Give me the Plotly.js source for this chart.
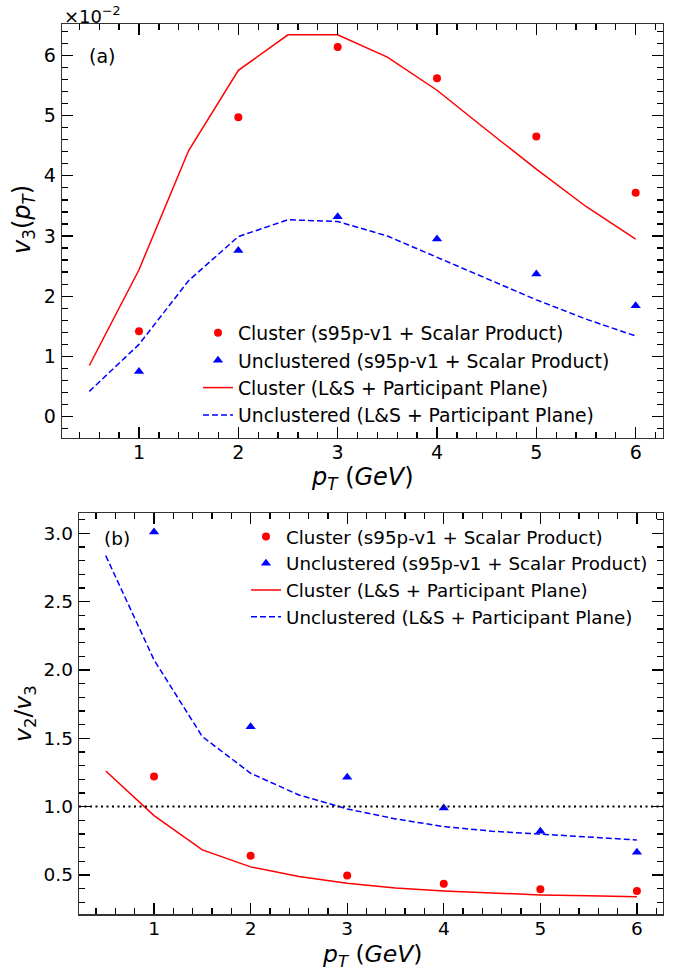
<!DOCTYPE html>
<html><head><meta charset="utf-8">
<script src="https://cdn.plot.ly/plotly-3.0.1.min.js"></script>
<style>html,body{margin:0;padding:0;background:#fff}</style>
</head><body><div id="chart" style="width:683px;height:972px"></div>
<script>
// x values
const pT = [1, 2, 3, 4, 5, 6];
const pTmodel = [0.5, 1, 1.5, 2, 2.5, 3, 3.5, 4, 4.5, 5, 5.5, 6];
// panel (a): v3(pT), in units of 1e-2
const v3ClusterSP = [1.42, 4.97, 6.14, 5.62, 4.65, 3.72];
const v3UnclSP = [0.75, 2.76, 3.32, 2.95, 2.37, 1.84];
const v3ClusterLS = [0.85, 2.44, 4.42, 5.75, 6.34, 6.34, 5.97, 5.42, 4.76, 4.11, 3.49, 2.95];
const v3UnclLS = [0.42, 1.20, 2.26, 2.99, 3.27, 3.24, 3.00, 2.65, 2.30, 1.94, 1.62, 1.34];
// panel (b): v2/v3
const ratioClusterSP = [1.22, 0.641, 0.495, 0.436, 0.395, 0.383];
const ratioUnclSP = [3.01, 1.585, 1.215, 0.99, 0.82, 0.666];
const ratioClusterLS = [1.26, 0.934, 0.683, 0.559, 0.488, 0.439, 0.405, 0.383, 0.368, 0.354, 0.347, 0.341];
const ratioUnclLS = [2.836, 2.073, 1.512, 1.244, 1.085, 0.983, 0.91, 0.854, 0.82, 0.798, 0.775, 0.756];
// labels
const names = [
  "Cluster (s95p-v1 + Scalar Product)",
  "Unclustered (s95p-v1 + Scalar Product)",
  "Cluster (L&S + Participant Plane)",
  "Unclustered (L&S + Participant Plane)"
];
const yTicksA = [0, 1, 2, 3, 4, 5, 6];
const xTicks = [1, 2, 3, 4, 5, 6];

const RED = '#ff0000', BLUE = '#0000ff';
const FONT = 'DejaVu Sans, Liberation Sans, sans-serif';

function mk(x, y, i, xa, ya, leg) {
  const t = {x: x, y: y, name: names[i], xaxis: xa, yaxis: ya, legend: leg};
  if (i === 0) Object.assign(t, {mode: 'markers', marker: {color: RED, size: 8, symbol: 'circle'}});
  if (i === 1) Object.assign(t, {mode: 'markers', marker: {color: BLUE, size: 9, symbol: 'triangle-up'}});
  if (i === 2) Object.assign(t, {mode: 'lines', line: {color: RED, width: 1.5}});
  if (i === 3) Object.assign(t, {mode: 'lines', line: {color: BLUE, width: 1.5, dash: '6px,3px'}});
  return t;
}

const data = [
  mk(pT, v3ClusterSP, 0, 'x', 'y', 'legend'),
  mk(pT, v3UnclSP, 1, 'x', 'y', 'legend'),
  mk(pTmodel, v3ClusterLS, 2, 'x', 'y', 'legend'),
  mk(pTmodel, v3UnclLS, 3, 'x', 'y', 'legend'),
  mk(pT, ratioClusterSP, 0, 'x2', 'y2', 'legend2'),
  mk(pT, ratioUnclSP, 1, 'x2', 'y2', 'legend2'),
  mk(pTmodel, ratioClusterLS, 2, 'x2', 'y2', 'legend2'),
  mk(pTmodel, ratioUnclLS, 3, 'x2', 'y2', 'legend2')
];

function minor(dt) {
  return {ticks: 'inside', ticklen: 6, tickwidth: 1.3, tickcolor: '#000', dtick: dt, tick0: 0, showgrid: false};
}
function ax(extra, fs) {
  return Object.assign({
    ticks: 'inside', ticklen: 11, tickwidth: 1.3, tickcolor: '#000',
    showline: true, linecolor: '#333', linewidth: 1.3, mirror: 'allticks',
    showgrid: false, zeroline: false,
    tickfont: {family: FONT, size: fs, color: '#000'}
  }, extra);
}
const W = 683, H = 972;
const px = v => v / W, py = v => 1 - v / H;

const layout = {
  width: W, height: H,
  margin: {l: 0, r: 0, t: 0, b: 0},
  paper_bgcolor: '#fff', plot_bgcolor: '#fff',
  showlegend: true,
  xaxis: ax({domain: [px(62), px(663)], anchor: 'y', range: [0.225, 6.275], tickvals: xTicks,
    ticklabelstandoff: -3, minor: minor(0.2)}, 19),
  yaxis: ax({domain: [py(438), py(24)], anchor: 'x', range: [-0.354, 6.52], tickvals: yTicksA,
    ticklabelstandoff: 1, minor: minor(0.2)}, 19),
  xaxis2: ax({domain: [px(79), px(663)], anchor: 'y2', range: [0.223, 6.27], tickvals: xTicks,
    ticklabelstandoff: -3, minor: minor(0.2)}, 18.5),
  yaxis2: ax({domain: [py(914.3), py(513.3)], anchor: 'x2', range: [0.212, 3.146], dtick: 0.5, tick0: 0, tickformat: '.1f',
    ticklabelstandoff: 1, minor: minor(0.1)}, 18.5),
  legend: {x: px(198), y: py(314), xanchor: 'left', yanchor: 'top', bgcolor: 'rgba(0,0,0,0)',
    font: {family: FONT, size: 18.8, color: '#000'}, borderwidth: 0},
  legend2: {x: px(246), y: py(518), xanchor: 'left', yanchor: 'top', bgcolor: 'rgba(0,0,0,0)',
    font: {family: FONT, size: 18.3, color: '#000'}, borderwidth: 0},
  shapes: [{type: 'line', xref: 'x2 domain', yref: 'y2', x0: 0, x1: 1, y0: 1, y1: 1,
    line: {color: '#000', width: 2, dash: '2px,3.5px'}, layer: 'above'}],
  annotations: [
    {text: '×10<sup>−2</sup>', xref: 'paper', yref: 'paper', x: px(62), y: py(15), xanchor: 'left', yanchor: 'middle',
      showarrow: false, font: {family: FONT, size: 18, color: '#000'}},
    {text: '(a)', xref: 'paper', yref: 'paper', x: px(87), y: py(56), xanchor: 'left', yanchor: 'middle',
      showarrow: false, font: {family: FONT, size: 19, color: '#000'}},
    {text: '(b)', xref: 'paper', yref: 'paper', x: px(102), y: py(538), xanchor: 'left', yanchor: 'middle',
      showarrow: false, font: {family: FONT, size: 18.5, color: '#000'}},
    {text: '<i>p<sub>T</sub></i> (<i>GeV</i>)', xref: 'paper', yref: 'paper', x: px(362), y: py(478),
      xanchor: 'center', yanchor: 'middle', showarrow: false, font: {family: FONT, size: 24, color: '#000'}},
    {text: '<i>p<sub>T</sub></i> (<i>GeV</i>)', xref: 'paper', yref: 'paper', x: px(372), y: py(955),
      xanchor: 'center', yanchor: 'middle', showarrow: false, font: {family: FONT, size: 23.5, color: '#000'}},
    {text: '<i>v</i><sub>3</sub>(<i>p<sub>T</sub></i>)', xref: 'paper', yref: 'paper', x: px(24), y: py(220),
      xanchor: 'center', yanchor: 'middle', textangle: -90, showarrow: false, font: {family: FONT, size: 24, color: '#000'}},
    {text: '<i>v</i><sub>2</sub>/<i>v</i><sub>3</sub>', xref: 'paper', yref: 'paper', x: px(24), y: py(714),
      xanchor: 'center', yanchor: 'middle', textangle: -90, showarrow: false, font: {family: FONT, size: 23.5, color: '#000'}}
  ]
};

Plotly.newPlot('chart', data, layout, {displayModeBar: false, staticPlot: true});
</script>
</body></html>
